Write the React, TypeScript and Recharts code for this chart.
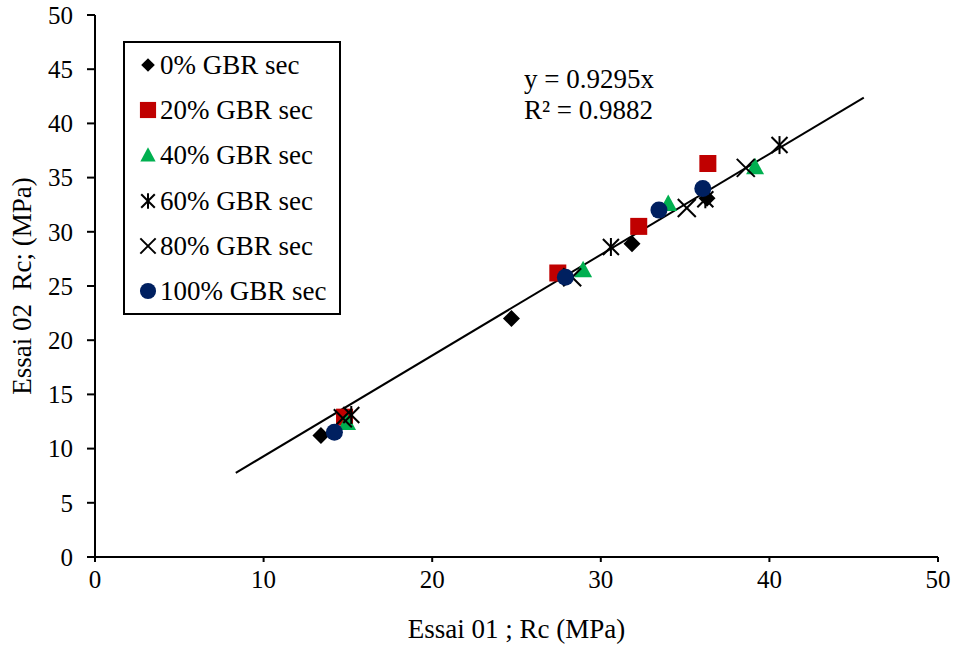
import React from 'react'
import { ScatterChart, Scatter, XAxis, YAxis } from 'recharts'

// Essai 01 (x) vs Essai 02 (y), Rc in MPa, per GBR content
const gbr0 = [
  { x: 13.4, y: 11.2 },
  { x: 24.7, y: 22.0 },
  { x: 31.85, y: 28.9 },
  { x: 36.3, y: 33.1 },
]
const gbr20 = [
  { x: 14.8, y: 12.9 },
  { x: 27.45, y: 26.2 },
  { x: 32.25, y: 30.5 },
  { x: 36.35, y: 36.3 },
]
const gbr40 = [
  { x: 14.95, y: 12.4 },
  { x: 28.95, y: 26.5 },
  { x: 34.0, y: 32.6 },
  { x: 39.15, y: 36.0 },
]
const gbr60 = [
  { x: 15.2, y: 13.1 },
  { x: 30.6, y: 28.6 },
  { x: 36.2, y: 33.0 },
  { x: 40.6, y: 38.0 },
]
const gbr80 = [
  { x: 14.7, y: 12.8 },
  { x: 28.3, y: 25.8 },
  { x: 35.1, y: 32.2 },
  { x: 38.6, y: 35.9 },
]
const gbr100 = [
  { x: 14.2, y: 11.5 },
  { x: 27.9, y: 25.8 },
  { x: 33.45, y: 32.0 },
  { x: 36.05, y: 34.0 },
]

const slope = 0.9295
const trendX = [8.35, 45.6]
const trendLine = trendX.map(x => ({ x, y: slope * x }))

const xTicks = [0, 10, 20, 30, 40, 50]
const yTicks = [0, 5, 10, 15, 20, 25, 30, 35, 40, 45, 50]

const FONT = '"Liberation Serif", "Times New Roman", serif'

const Diamond = ({ cx, cy, s = 1 }: any) => (
  <polygon points={`${cx},${cy - 8.5 * s} ${cx + 8.5 * s},${cy} ${cx},${cy + 8.5 * s} ${cx - 8.5 * s},${cy}`} fill="#000" />
)
const Square = ({ cx, cy, s = 1 }: any) => (
  <rect x={cx - 8.5 * s} y={cy - 8.5 * s} width={17 * s} height={17 * s} fill="#c00000" />
)
const Triangle = ({ cx, cy, s = 1 }: any) => (
  <polygon points={`${cx},${cy - 9 * s} ${cx + 9 * s},${cy + 7.5 * s} ${cx - 9 * s},${cy + 7.5 * s}`} fill="#00b050" />
)
const Asterisk = ({ cx, cy, s = 1 }: any) => (
  <g stroke="#000" strokeWidth={2}>
    <line x1={cx - 8 * s} y1={cy - 8 * s} x2={cx + 8 * s} y2={cy + 8 * s} />
    <line x1={cx - 8 * s} y1={cy + 8 * s} x2={cx + 8 * s} y2={cy - 8 * s} />
    <line x1={cx} y1={cy - 9 * s} x2={cx} y2={cy + 9 * s} />
  </g>
)
const Cross = ({ cx, cy, s = 1 }: any) => (
  <g stroke="#000" strokeWidth={2}>
    <line x1={cx - 9 * s} y1={cy - 9 * s} x2={cx + 9 * s} y2={cy + 9 * s} />
    <line x1={cx - 9 * s} y1={cy + 9 * s} x2={cx + 9 * s} y2={cy - 9 * s} />
  </g>
)
const Circle = ({ cx, cy, s = 1 }: any) => <circle cx={cx} cy={cy} r={8.5 * s} fill="#002060" />
const NoDot = () => null

const legendItems = [
  { label: '0% GBR sec', Shape: Diamond, s: 0.8 },
  { label: '20% GBR sec', Shape: Square, s: 0.95 },
  { label: '40% GBR sec', Shape: Triangle, s: 0.85 },
  { label: '60% GBR sec', Shape: Asterisk, s: 0.85 },
  { label: '80% GBR sec', Shape: Cross, s: 0.85 },
  { label: '100% GBR sec', Shape: Circle, s: 0.95 },
]

const LegendBox = () => (
  <div
    style={{
      position: 'absolute',
      left: 123,
      top: 41,
      width: 214,
      height: 270,
      border: '2px solid #000',
      background: '#fff',
      fontFamily: FONT,
      fontSize: 27,
      color: '#000',
    }}
  >
    {legendItems.map(({ label, Shape, s }, i) => (
      <div
        key={label}
        style={{ position: 'absolute', left: 12, top: 22 - 15 + i * 45.2, height: 30, display: 'flex', alignItems: 'center', whiteSpace: 'nowrap' }}
      >
        <svg width={22} height={22}>
          <Shape cx={11} cy={11} s={s} />
        </svg>
        <span style={{ marginLeft: 1, lineHeight: '30px' }}>{label}</span>
      </div>
    ))}
  </div>
)

export default function App() {
  return (
    <div style={{ position: 'absolute', left: 0, top: 0, width: 959, height: 645, background: '#fff' }}>
      <ScatterChart width={959} height={645} margin={{ top: 15, right: 21, left: 0, bottom: 0 }}>
        <XAxis
          type="number"
          dataKey="x"
          domain={[0, 50]}
          ticks={xTicks}
          height={88}
          stroke="#000"
          strokeWidth={2}
          tickSize={5}
          tickMargin={8}
          tick={{ fill: '#000', fontFamily: FONT, fontSize: 25 }}
          label={{ value: 'Essai 01 ; Rc (MPa)', position: 'insideBottom', offset: 7, fill: '#000', fontFamily: FONT, fontSize: 27 }}
        />
        <YAxis
          type="number"
          dataKey="y"
          domain={[0, 50]}
          ticks={yTicks}
          width={95}
          stroke="#000"
          strokeWidth={2}
          tickSize={8}
          tickMargin={14}
          tick={{ fill: '#000', fontFamily: FONT, fontSize: 25 }}
          label={{
            value: 'Essai 02\u00a0\u00a0Rc; (MPa)',
            angle: -90,
            position: 'insideLeft',
            offset: 27,
            dx: -6,
            style: { textAnchor: 'middle' },
            fill: '#000',
            fontFamily: FONT,
            fontSize: 27,
          }}
        />
        <Scatter data={trendLine} line={{ stroke: '#000', strokeWidth: 2 }} shape={NoDot} isAnimationActive={false} legendType="none" />
        <Scatter name="0% GBR sec" data={gbr0} shape={Diamond} isAnimationActive={false} />
        <Scatter name="20% GBR sec" data={gbr20} shape={Square} isAnimationActive={false} />
        <Scatter name="40% GBR sec" data={gbr40} shape={Triangle} isAnimationActive={false} />
        <Scatter name="60% GBR sec" data={gbr60} shape={Asterisk} isAnimationActive={false} />
        <Scatter name="80% GBR sec" data={gbr80} shape={Cross} isAnimationActive={false} />
        <Scatter name="100% GBR sec" data={gbr100} shape={Circle} isAnimationActive={false} />
      </ScatterChart>
      <LegendBox />
      <div style={{ position: 'absolute', left: 524, top: 64, fontFamily: FONT, fontSize: 27, lineHeight: '31px', color: '#000', whiteSpace: 'nowrap' }}>
        <div>y = 0.9295x</div>
        <div>R² = 0.9882</div>
      </div>
    </div>
  )
}
